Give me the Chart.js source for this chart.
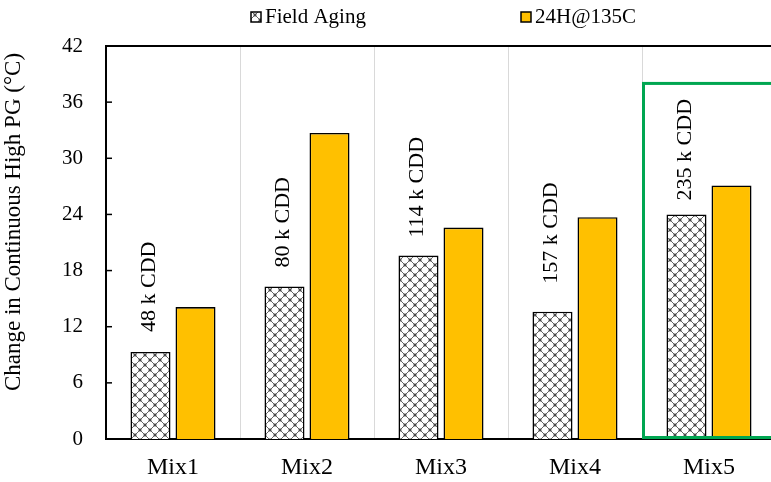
<!DOCTYPE html>
<html>
<head>
<meta charset="utf-8">
<script src="https://cdn.jsdelivr.net/npm/chart.js@4"></script>
<style>
  html, body { margin: 0; padding: 0; background: #fff; overflow: hidden; }
  #wrap { width: 790px; height: 482px; position: relative; }
</style>
</head>
<body>
<div id="wrap"><canvas id="pgChart"></canvas></div>
<script>
const mixes = ["Mix1", "Mix2", "Mix3", "Mix4", "Mix5"]
const fieldAging = [9.3, 16.3, 19.6, 13.6, 24.0]
const oven24h = [14.1, 32.7, 22.6, 23.7, 27.1]
const cddLabels = ["48 k CDD", "80 k CDD", "114 k CDD", "157 k CDD", "235 k CDD"]
const seriesNames = ["Field Aging", "24H@135C"]

const SERIF = '"Liberation Serif", "Times New Roman", serif'

// white crosshatch with little rings at the crossings
function makeHatch() {
  const c = document.createElement("canvas")
  c.width = 10
  c.height = 10
  const g = c.getContext("2d")
  g.fillStyle = "#fff"
  g.fillRect(0, 0, 10, 10)
  g.strokeStyle = "#111"
  g.lineWidth = 0.65
  g.beginPath()
  g.moveTo(0, 0); g.lineTo(10, 10)
  g.moveTo(10, 0); g.lineTo(0, 10)
  g.stroke()
  g.lineWidth = 0.5
  for (const [x, y] of [[5, 5], [0, 0], [10, 0], [0, 10], [10, 10]]) {
    g.beginPath()
    g.arc(x, y, 1.3, 0, Math.PI * 2)
    g.stroke()
  }
  return g.createPattern(c, "repeat")
}

const hatch = makeHatch()

const extras = {
  id: "extras",
  afterDraw(chart, args, opts) {
    const { ctx, chartArea: a, scales: { x, y } } = chart
    ctx.save()

    // frame top/right + inward ticks on the value axis
    ctx.strokeStyle = "#000"
    ctx.lineWidth = 2
    ctx.beginPath()
    ctx.moveTo(a.left, a.top)
    ctx.lineTo(a.right, a.top)
    ctx.lineTo(a.right, a.bottom)
    ctx.stroke()
    ctx.lineWidth = 1.5
    for (const t of y.ticks) {
      const py = y.getPixelForValue(t.value)
      ctx.beginPath()
      ctx.moveTo(a.left, py)
      ctx.lineTo(a.left + 6, py)
      ctx.stroke()
    }

    // CDD notes above the field-aging bars
    const meta = chart.getDatasetMeta(0)
    ctx.fillStyle = "#000"
    ctx.font = `22px ${SERIF}`
    ctx.textAlign = "left"
    ctx.textBaseline = "middle"
    meta.data.forEach((bar, i) => {
      ctx.save()
      ctx.translate(bar.x - 1, bar.y - opts.noteGap[i])
      ctx.rotate(-Math.PI / 2)
      ctx.fillText(cddLabels[i], 0, 0)
      ctx.restore()
    })

    // highlight box round the last group
    const xl = (x.getPixelForValue(3) + x.getPixelForValue(4)) / 2 + 1.5
    const yt = y.getPixelForValue(opts.boxTop)
    const yb = y.getPixelForValue(0) - 1.5
    ctx.strokeStyle = "#00a651"
    ctx.lineWidth = 3
    ctx.strokeRect(xl, yt, a.right + 20 - xl, yb - yt)

    // axis title
    ctx.save()
    ctx.translate(14, 222)
    ctx.rotate(-Math.PI / 2)
    ctx.textAlign = "center"
    ctx.font = `23px ${SERIF}`
    ctx.fillStyle = "#000"
    ctx.fillText("Change in Continuous High PG (\u00b0C)", 0, 0)
    ctx.restore()

    // legend
    ctx.font = `21px ${SERIF}`
    ctx.textAlign = "left"
    const fills = [hatch, "#ffc000"]
    opts.legendX.forEach((lx, i) => {
      ctx.fillStyle = fills[i]
      ctx.fillRect(lx, 12, 10, 10)
      ctx.strokeStyle = "#000"
      ctx.lineWidth = 1.5
      ctx.strokeRect(lx, 12, 10, 10)
      ctx.fillStyle = "#000"
      ctx.fillText(seriesNames[i], lx + 14, 17)
    })

    ctx.restore()
  },
}

new Chart(document.getElementById("pgChart"), {
  type: "bar",
  data: {
    labels: mixes,
    datasets: [
      {
        label: seriesNames[0],
        data: fieldAging,
        backgroundColor: hatch,
        borderColor: "#000",
        borderWidth: 1.6,
      },
      {
        label: seriesNames[1],
        data: oven24h,
        backgroundColor: "#ffc000",
        borderColor: "#000",
        borderWidth: 1.6,
      },
    ],
  },
  options: {
    responsive: true,
    maintainAspectRatio: false,
    animation: false,
    categoryPercentage: 0.672,
    barPercentage: 0.889,
    layout: { padding: { top: 46, right: 14, left: 0, bottom: 0 } },
    plugins: {
      legend: { display: false },
      tooltip: { enabled: false },
      extras: { noteGap: [20, 19, 18, 28, 14], boxTop: 38, legendX: [251, 521] },
    },
    scales: {
      x: {
        grid: { color: "#d9d9d9", lineWidth: 1, drawTicks: false, offset: true },
        border: { color: "#000", width: 2 },
        ticks: { color: "#000", font: { family: SERIF, size: 24 }, padding: 14 },
        afterFit: (s) => { s.height = 43 },
      },
      y: {
        min: 0,
        max: 42,
        grid: { display: false, drawTicks: false },
        border: { color: "#000", width: 2 },
        ticks: { stepSize: 6, color: "#000", font: { family: SERIF, size: 21 }, padding: 23 },
        afterFit: (s) => { s.width = 106 },
      },
    },
  },
  plugins: [extras],
})
</script>
</body>
</html>
